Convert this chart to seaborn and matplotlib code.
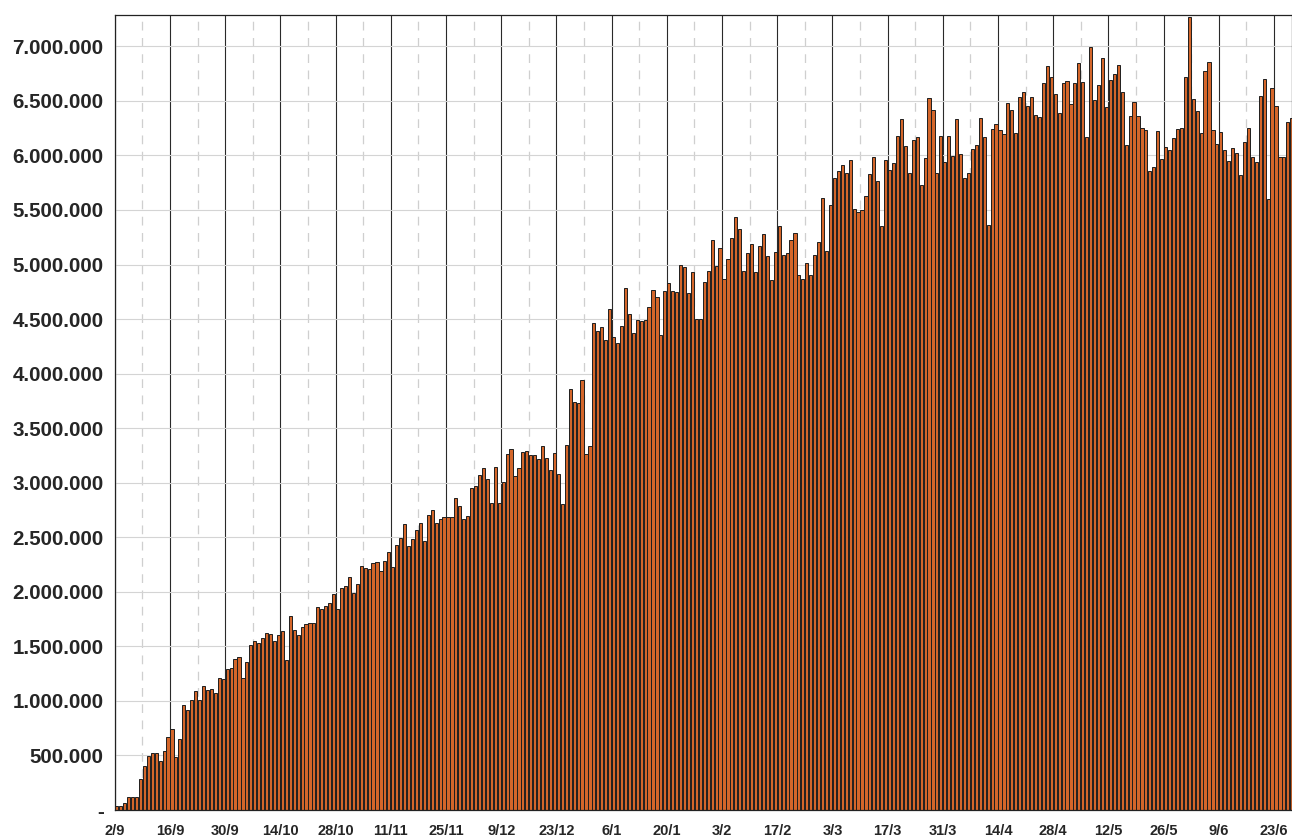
import numpy as np
import pandas as pd
import matplotlib
matplotlib.use("Agg")
import matplotlib.pyplot as plt
from matplotlib.ticker import FuncFormatter, FixedLocator
import seaborn as sns

# daily values (thousands), 2/9/2020 onwards
vals_k = [
    40, 40, 66, 118, 118, 118, 283, 405, 494, 525, 525, 451, 537, 668, 738, 488, 647, 959, 916, 1011,
    1094, 1007, 1139, 1099, 1108,
    1075, 1213, 1200, 1292, 1301, 1381, 1405, 1206, 1353, 1509, 1552, 1530, 1576, 1622, 1613, 1552,
    1607, 1640, 1378, 1778, 1647, 1607, 1677, 1702,
    1717, 1717, 1861, 1839, 1873, 1894, 1983, 1846, 2038, 2050, 2133, 1993, 2072, 2237, 2218, 2206,
    2268, 2271, 2191, 2283, 2362, 2228, 2433, 2491,
    2626, 2420, 2482, 2571, 2628, 2470, 2708, 2751, 2635, 2668, 2686, 2690, 2690, 2864, 2784, 2668,
    2693, 2950, 2968, 3075, 3136, 3032, 2818, 3145, 2818,
    3011, 3261, 3305, 3062, 3133, 3283, 3292, 3255, 3255, 3216, 3338, 3225, 3121, 3268, 3078, 2803,
    3344, 3855, 3741, 3727, 3938, 3261, 3338, 4460,
    4387, 4429, 4305, 4592, 4332, 4277, 4439, 4782, 4546, 4372, 4488, 4479, 4491, 4610, 4763, 4699,
    4353, 4757, 4827, 4757, 4748, 5000, 4980, 4736, 4930,
    4500, 4500, 4837, 4940, 5228, 4989, 5154, 4864, 5048, 5240, 5436, 5328, 4943, 5103, 5191, 4934,
    5170, 5283, 5081, 4858, 5117, 5353, 5090, 5108, 5228, 5289,
    4906, 4864, 5017, 4901, 5084, 5203, 5613, 5121, 5543, 5791, 5860, 5915, 5839, 5956, 5509, 5479,
    5500, 5626, 5833, 5986, 5769, 5356, 5956, 5870,
    5931, 6179, 6335, 6087, 5837, 6142, 6167, 5732, 5980, 6525, 6415, 5842, 6179, 5938, 6179, 5998,
    6338, 6014, 5794, 5842, 6057, 6096, 6341, 6167,
    5360, 6243, 6286, 6234, 6197, 6485, 6417, 6209, 6534, 6580, 6451, 6539, 6372, 6350, 6668, 6824,
    6717, 6561, 6390, 6662, 6683, 6470, 6662, 6846,
    6672, 6167, 6993, 6506, 6650, 6897, 6445, 6696, 6748, 6830, 6580, 6096, 6362, 6491, 6365, 6250,
    6237, 5858, 5897, 6225, 5970, 6078, 6050, 6160, 6246,
    6252, 6720, 7273, 6521, 6411, 6204, 6772, 6861, 6231, 6103, 6213, 6050, 5952, 6069, 6020, 5818,
    6121, 6255, 5986, 5943, 6546, 6699, 5600, 6617, 6452, 5989, 5989, 6310, 6341,
]
days = pd.date_range("2020-09-02", periods=len(vals_k), freq="D")
df = pd.DataFrame({"day": days.strftime("%Y-%m-%d"), "value": np.array(vals_k) * 1000})

yticks = list(range(0, 7000001, 500000))

sns.set_style("white")
plt.rcParams["font.family"] = ["Liberation Sans", "DejaVu Sans"]

W, H = 1292, 838
fig = plt.figure(figsize=(W / 100, H / 100), dpi=100)
ax = fig.add_axes([114.8 / W, 1 - 810 / H, (W - 114.8) / W, (810 - 14.7) / H])

sns.barplot(data=df, x="day", y="value", color="#d4662a", saturation=1,
            edgecolor="#1e1e1e", linewidth=0.7, width=0.8, ax=ax)

n = len(df)
ax.set_xlim(-0.5, -0.5 + (W - 114.8) / 3.943)
ax.set_ylim(0, 7.29e6)

# date ticks every 14 days on slot boundaries, dashed lines in between
major = [i - 0.5 for i in range(0, n, 14)]
minor = [i - 0.5 for i in range(7, n, 14)]
ax.xaxis.set_major_locator(FixedLocator(major))
ax.xaxis.set_minor_locator(FixedLocator(minor))
ax.set_xticklabels([f"{d.day}/{d.month}" for d in days[::14]],
                   fontsize=10.5, fontweight="bold")
ax.tick_params(axis="x", which="both", length=0, pad=10)

ax.set_yticks(yticks)
ax.yaxis.set_major_formatter(FuncFormatter(
    lambda v, p: "-" if v == 0 else f"{int(v):,}".replace(",", ".")))
for t in ax.get_yticklabels():
    t.set_fontweight("bold")
    t.set_fontsize(14.8)
ax.tick_params(axis="y", length=0, pad=8)

ax.set_axisbelow(True)
ax.grid(axis="y", color="#d4d4d4", linewidth=0.8)
ax.grid(axis="x", which="major", color="#2a2a2a", linewidth=0.8)
ax.grid(axis="x", which="minor", color="#cfcfcf", linewidth=0.9, linestyle=(0, (7, 6)))

for s in ax.spines.values():
    s.set_color("#222222")
    s.set_linewidth(0.9)

ax.set_xlabel("")
ax.set_ylabel("")
fig.savefig("out.png", dpi=100)
